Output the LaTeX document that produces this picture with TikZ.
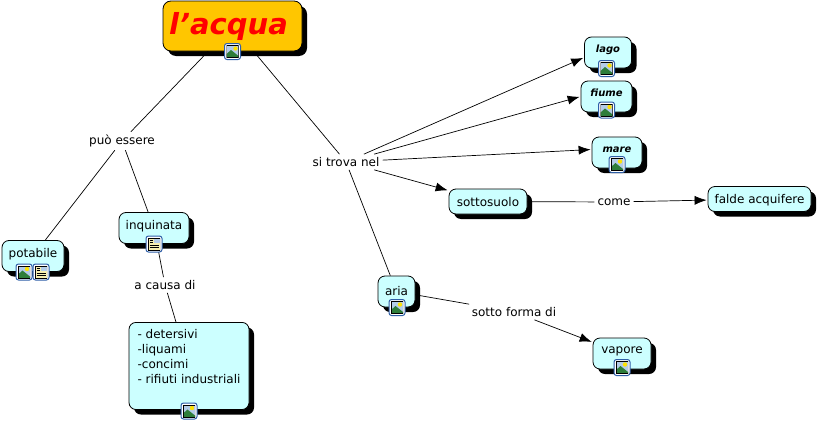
\documentclass[tikz,border=0pt]{standalone}
\usepackage{fontspec}
\setmainfont{DejaVu Sans}
\usetikzlibrary{shadows,arrows.meta}
\definecolor{boxc}{HTML}{CCFFFF}
\definecolor{titlec}{HTML}{FFC600}
\definecolor{icb}{HTML}{2F5FA8}
\definecolor{sky}{HTML}{B4CCE8}
\definecolor{hill}{HTML}{2E7D3A}
\definecolor{cream}{HTML}{F7EFB0}
\tikzset{
  x=1pt,y=-1pt,
  cbox/.style={draw=black,fill=boxc,line width=.8pt,rounded corners=7pt,inner xsep=0pt,
    drop shadow={shadow xshift=5pt,shadow yshift=-5pt,fill=black,opacity=1},
    font=\fontsize{12}{15}\selectfont,text=black},
  iconbox/.style={cbox,inner ysep=6pt,text height=11pt,text depth=8pt},
  plainbox/.style={cbox,inner ysep=5pt,text height=12pt,text depth=3pt},
  ital/.style={font=\fontsize{10}{12}\selectfont\bfseries\itshape,text height=9.5pt,text depth=9.5pt},
  lbl/.style={fill=white,inner sep=3pt,font=\fontsize{12}{15}\selectfont,text=black},
  conn/.style={draw=black,line width=.7pt},
  arr/.style={conn,-{Latex[length=12pt,width=9pt]},shorten >=1pt},
}
\newcommand{\iconframe}[3]{%
  \draw[draw=icb,fill=white,line width=1pt,rounded corners=2.5pt] (#1-8,#2-8) rectangle (#1+8,#2+8);
  \begin{scope}
  \clip (#1-6,#2-6) rectangle (#1+6,#2+6);
  #3
  \end{scope}}
\newcommand{\imgicon}[2]{\iconframe{#1}{#2}{%
  \fill[sky] (#1-6,#2-6) rectangle (#1+6,#2+6);
  \fill[yellow!85!orange] (#1+3,#2-3) circle (2.2);
  \fill[hill] (#1-6,#2+6) -- (#1-6,#2+2.5) -- (#1-1.5,#2-1.5) -- (#1+6,#2+4.5) -- (#1+6,#2+6) -- cycle;
  \draw[black,line width=.6pt] (#1-6,#2-6) rectangle (#1+6,#2+6);}}
\newcommand{\docicon}[2]{\iconframe{#1}{#2}{%
  \fill[cream] (#1-6,#2-6) rectangle (#1+6,#2+6);
  \fill[sky] (#1,#2-6) rectangle (#1+6,#2-1);
  \draw[black,line width=.8pt] (#1-4.5,#2-4) -- (#1-1,#2-4) (#1-4.5,#2-1.5) -- (#1-1,#2-1.5) (#1-4.5,#2+1) -- (#1+4.5,#2+1) (#1-4.5,#2+3.5) -- (#1+4.5,#2+3.5);
  \draw[black,line width=.6pt] (#1-6,#2-6) rectangle (#1+6,#2+6);}}
\begin{document}
\begin{tikzpicture}
\useasboundingbox (0,0) rectangle (818,423);
\fill[white] (0,0) rectangle (818,423);
% concepts
\node[cbox,fill=titlec,minimum width=139pt,minimum height=50pt,inner ysep=0pt,rounded corners=8pt,
  font=\fontsize{29}{32}\selectfont\bfseries\itshape,text=red] (acqua) at (232.5,26) {\hspace{-8pt}l{\char39}acqua};
\node[iconbox,ital,minimum width=47pt] (lago) at (608,52.5) {lago};
\node[iconbox,ital,minimum width=51pt] (fiume) at (606.5,96.5) {fiume};
\node[iconbox,ital,minimum width=50pt] (mare) at (617,152.5) {mare};
\node[plainbox,minimum width=78pt] (sottosuolo) at (488,201.5) {sottosuolo};
\node[plainbox,minimum width=103pt] (falde) at (759.5,199) {falde acquifere};
\node[iconbox,minimum width=58pt,text height=9pt,text depth=10pt] (vapore) at (622,353.5) {vapore};
\node[iconbox,minimum width=37pt,text height=13pt,text depth=6pt] (aria) at (396.5,291.5) {aria};
\node[iconbox,minimum width=62pt] (potabile) at (33,256) {potabile};
\node[iconbox,minimum width=70pt] (inquinata) at (154,228) {inquinata};
\node[cbox,align=left,minimum width=120pt,inner xsep=8pt,inner ysep=7pt,anchor=north] (lista) at (189,322)
  {- detersivi\\-liquami\\-concimi\\- rifiuti industriali\\[4pt]\mbox{}};
% linking phrases
\node[lbl] (puo) at (122,141) {può essere};
\node[lbl] (trova) at (346,162) {si trova nel};
\node[lbl] (causa) at (165,285) {a causa di};
\node[lbl] (come) at (614,202) {come};
\node[lbl] (forma) at (514,312) {sotto forma di};
% connectors
\draw[conn] (acqua) -- (puo);
\draw[conn] (acqua) -- (trova);
\draw[conn] (puo) -- (potabile);
\draw[conn] (puo) -- (inquinata);
\draw[conn] (inquinata) -- (causa);
\draw[conn] (causa) -- (lista);
\draw[arr] (trova) -- ([yshift=-5pt]lago.west);
\draw[arr] (trova) -- (fiume.west);
\draw[arr] (trova) -- ([yshift=3pt]mare.west);
\draw[arr] (trova) -- (sottosuolo);
\draw[conn] (trova) -- (aria);
\draw[conn] (sottosuolo) -- (come);
\draw[arr] (come) -- (falde);
\draw[conn] (aria) -- (forma);
\draw[arr] (forma) -- (vapore);
% icons
\imgicon{232.5}{51.5}
\imgicon{606.5}{68.5}
\imgicon{606.5}{110}
\imgicon{617}{164.5}
\imgicon{622}{367.5}
\imgicon{397}{307.5}
\imgicon{24}{272}
\docicon{41}{272}
\docicon{154}{244}
\imgicon{189}{411}
\end{tikzpicture}
\end{document}
